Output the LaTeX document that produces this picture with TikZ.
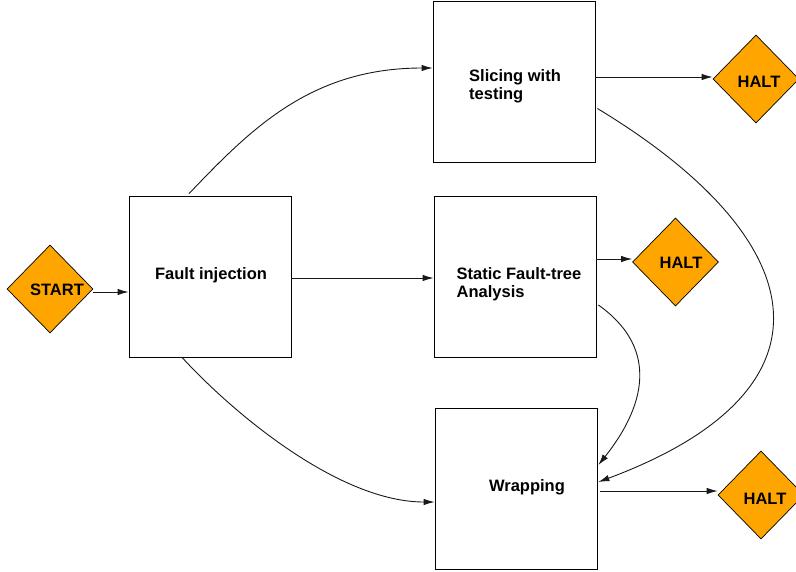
\documentclass[tikz,border=0pt]{standalone}
\usepackage{fontspec}
\setmainfont{Liberation Sans}
\usetikzlibrary{shapes.geometric,arrows.meta}
\definecolor{haltorange}{HTML}{FFA500}
\begin{document}
\begin{tikzpicture}[x=1pt,y=-1pt,
  box/.style={draw=black,line width=0.8pt,minimum width=162pt,minimum height=161pt,inner sep=0pt},
  lbl/.style={font=\fontsize{16.5}{18}\selectfont\bfseries,align=left,inner sep=0pt},
  dia/.style={diamond,draw=black,line width=0.7pt,fill=haltorange,minimum width=86pt,minimum height=88pt,inner sep=0pt},
  conn/.style={draw=black!90,line width=0.9pt,-{Latex[length=11pt,width=6.5pt]}}]
\useasboundingbox (0,0) rectangle (796,571);
% boxes
\node[box] (fault) at (210,276.5) {};
\node[box] (slice) at (514,81.5) {};
\node[box] (static) at (515,277) {};
\node[box] (wrap) at (516,488.5) {};
\node[lbl] (faultt) at (211,275) {Fault injection};
\node[lbl] (slicet) at (515,86) {Slicing with\\testing};
\node[lbl] (statict) at (519,284) {Static Fault-tree\\Analysis};
\node[lbl] (wrapt) at (527,487) {Wrapping};
% diamonds
\node[dia] (start) at (50,289) {};
\node[dia] (halta) at (756,79) {};
\node[dia] (haltb) at (675.5,262) {};
\node[dia] (haltc) at (761,495) {};
\node[lbl] (startt) at (57,290) {START};
\node[lbl] (haltat) at (759,82) {HALT};
\node[lbl] (haltbt) at (681,263) {HALT};
\node[lbl] (haltct) at (765,499) {HALT};
% connectors
\draw[conn] (start.east |- 0,292) -- (fault.west |- 0,292);
\draw[conn] (fault.east |- 0,278) -- (static.west |- 0,278);
\draw[conn] (slice.east |- 0,77) -- (halta.west |- 0,77);
\draw[conn] (static.east |- 0,259) -- (haltb.west |- 0,259);
\draw[conn] ([xshift=3pt]wrap.east |- 0,491) -- (haltc.west |- 0,491);
\draw[conn] ([xshift=-21pt,yshift=2pt]fault.north) .. controls (250,130) and (310,68) .. (slice.west |- 0,68);
\draw[conn] ([xshift=-28pt]fault.south) .. controls (235,415) and (340,502) .. (wrap.west |- 0,502);
\draw[conn] ([xshift=2pt,yshift=-27pt]slice.east) .. controls (815,240) and (845,390) .. ([xshift=1pt]wrap.east |- 0,482);
\draw[conn] ([xshift=2pt,yshift=-28pt]static.east) .. controls (655,345) and (650,400) .. ([xshift=1pt]wrap.east |- 0,465);
\end{tikzpicture}
\end{document}
